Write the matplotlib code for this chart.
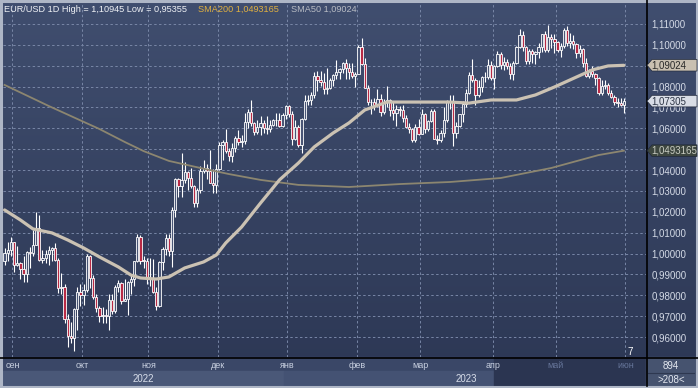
import matplotlib
matplotlib.use("Agg")
import matplotlib.pyplot as plt
import matplotlib.transforms as mtransforms
from matplotlib.patches import Rectangle, Polygon
import numpy as np

# daily EUR/USD candles, 29 Aug 2022 .. 30 May 2023 (trading days)
OPEN = [0.9965, 1.0002, 1.0017, 1.0054, 0.9945, 0.9953, 0.9928, 0.9902, 1.0009, 1.0001,
        1.0042, 1.0121, 0.9969, 0.9978, 0.9997, 1.0015, 1.0026, 0.9970, 0.9837, 0.9838,
        0.9688, 0.9606, 0.9594, 0.9736, 0.9815, 0.9802, 0.9824, 0.9986, 0.9884, 0.9794,
        0.9741, 0.9703, 0.9706, 0.9703, 0.9777, 0.9723, 0.9838, 0.9857, 0.9775, 0.9780,
        0.9862, 0.9877, 0.9962, 1.0077, 0.9966, 0.9965, 0.9882, 0.9878, 0.9818, 0.9750,
        0.9960, 1.0020, 1.0073, 1.0013, 1.0209, 1.0355, 1.0325, 1.0354, 1.0389, 1.0362,
        1.0325, 1.0244, 1.0305, 1.0397, 1.0409, 1.0398, 1.0340, 1.0330, 1.0405, 1.0522,
        1.0535, 1.0490, 1.0468, 1.0505, 1.0555, 1.0535, 1.0537, 1.0630, 1.0680, 1.0627,
        1.0583, 1.0606, 1.0625, 1.0604, 1.0595, 1.0615, 1.0639, 1.0641, 1.0611, 1.0662,
        1.0705, 1.0670, 1.0550, 1.0605, 1.0520, 1.0645, 1.0732, 1.0735, 1.0760, 1.0852,
        1.0830, 1.0820, 1.0790, 1.0795, 1.0830, 1.0855, 1.0870, 1.0885, 1.0915, 1.0890,
        1.0868, 1.0850, 1.0862, 1.0990, 1.0910, 1.0795, 1.0725, 1.0728, 1.0712, 1.0740,
        1.0680, 1.0725, 1.0737, 1.0690, 1.0672, 1.0695, 1.0686, 1.0650, 1.0605, 1.0595,
        1.0545, 1.0607, 1.0575, 1.0670, 1.0597, 1.0635, 1.0683, 1.0548, 1.0545, 1.0580,
        1.0640, 1.0730, 1.0733, 1.0577, 1.0610, 1.0670, 1.0718, 1.0770, 1.0855, 1.0830,
        1.0760, 1.0800, 1.0845, 1.0845, 1.0905, 1.0840, 1.0900, 1.0955, 1.0905, 1.0920,
        1.0900, 1.0860, 1.0915, 1.0990, 1.1045, 1.0990, 1.0925, 1.0970, 1.0955, 1.0965,
        1.0990, 1.1050, 1.0975, 1.1040, 1.1030, 1.1015, 1.0975, 1.0995, 1.1070, 1.1010,
        1.1020, 1.1005, 1.0960, 1.0980, 1.0915, 1.0850, 1.0875, 1.0860, 1.0840, 1.0770,
        1.0805, 1.0810, 1.0770, 1.0750, 1.0725, 1.0720, 1.0710]
HIGH = [1.0027, 1.0054, 1.0079, 1.0057, 1.0034, 0.9961, 0.9988, 1.0011, 1.0030, 1.0113,
        1.0198, 1.0187, 1.0019, 1.0017, 1.0036, 1.0030, 1.0051, 0.9977, 0.9907, 0.9852,
        0.9711, 0.9671, 0.9737, 0.9838, 0.9853, 0.9853, 0.9999, 0.9991, 0.9899, 0.9806,
        0.9749, 0.9743, 0.9736, 0.9807, 0.9808, 0.9847, 0.9875, 0.9865, 0.9876, 0.9869,
        0.9903, 0.9966, 1.0094, 1.0089, 0.9986, 0.9977, 0.9977, 0.9976, 0.9842, 0.9964,
        1.0032, 1.0094, 1.0096, 1.0222, 1.0364, 1.0364, 1.0481, 1.0437, 1.0394, 1.0412,
        1.0330, 1.0315, 1.0418, 1.0448, 1.0430, 1.0497, 1.0403, 1.0429, 1.0533, 1.0545,
        1.0595, 1.0505, 1.0528, 1.0561, 1.0590, 1.0570, 1.0673, 1.0694, 1.0737, 1.0630,
        1.0640, 1.0660, 1.0640, 1.0658, 1.0639, 1.0645, 1.0672, 1.0672, 1.0675, 1.0714,
        1.0713, 1.0685, 1.0640, 1.0615, 1.0650, 1.0760, 1.0760, 1.0776, 1.0868, 1.0874,
        1.0875, 1.0867, 1.0887, 1.0842, 1.0859, 1.0927, 1.0890, 1.0920, 1.0930, 1.0915,
        1.0914, 1.0870, 1.1000, 1.1033, 1.0935, 1.0810, 1.0739, 1.0745, 1.0790, 1.0765,
        1.0740, 1.0804, 1.0740, 1.0730, 1.0710, 1.0705, 1.0710, 1.0665, 1.0625, 1.0600,
        1.0620, 1.0645, 1.0691, 1.0672, 1.0640, 1.0694, 1.0695, 1.0568, 1.0590, 1.0700,
        1.0735, 1.0760, 1.0760, 1.0630, 1.0670, 1.0730, 1.0788, 1.0870, 1.0930, 1.0840,
        1.0830, 1.0850, 1.0870, 1.0930, 1.0925, 1.0905, 1.0973, 1.0965, 1.0940, 1.0930,
        1.0915, 1.0925, 1.0995, 1.1075, 1.1065, 1.0995, 1.0980, 1.0980, 1.0970, 1.1010,
        1.1050, 1.1065, 1.10945, 1.1050, 1.1050, 1.1020, 1.1010, 1.1080, 1.1092, 1.1055,
        1.1045, 1.1010, 1.1000, 1.0985, 1.0935, 1.0885, 1.0900, 1.0865, 1.0845, 1.0830,
        1.0830, 1.0815, 1.0785, 1.0760, 1.0745, 1.0745, 1.0745]
LOW = [0.9944, 0.9964, 0.9986, 0.9910, 0.9940, 0.9877, 0.9864, 0.9864, 0.9930, 0.9990,
       1.0040, 0.9966, 0.9955, 0.9954, 0.9944, 0.9966, 0.9965, 0.9809, 0.9807, 0.9669,
       0.9553, 0.9570, 0.95355, 0.9636, 0.9749, 0.9752, 0.9818, 0.9835, 0.9782, 0.9721,
       0.9670, 0.9665, 0.9669, 0.9632, 0.9711, 0.9714, 0.9815, 0.9756, 0.9772, 0.9705,
       0.9808, 0.9845, 0.9959, 0.9951, 0.9931, 0.9854, 0.9843, 0.9811, 0.9730, 0.9746,
       0.9922, 0.9991, 0.9990, 0.9935, 1.0175, 1.0271, 1.0270, 1.0336, 1.0305, 1.0316,
       1.0222, 1.0225, 1.0292, 1.0386, 1.0359, 1.0339, 1.0290, 1.0290, 1.0400, 1.0446,
       1.0480, 1.0443, 1.0437, 1.0488, 1.0520, 1.0511, 1.0523, 1.0600, 1.0611, 1.0566,
       1.0574, 1.0570, 1.0576, 1.0573, 1.0584, 1.0612, 1.0612, 1.0607, 1.0605, 1.0645,
       1.0655, 1.0520, 1.0543, 1.0510, 1.0483, 1.0640, 1.0714, 1.0712, 1.0745, 1.0777,
       1.0801, 1.0766, 1.0765, 1.0790, 1.0803, 1.0835, 1.0835, 1.0865, 1.0835, 1.0836,
       1.0839, 1.0800, 1.0860, 1.0905, 1.0793, 1.0710, 1.0670, 1.0690, 1.0700, 1.0660,
       1.0670, 1.0700, 1.0660, 1.0640, 1.0612, 1.0660, 1.0630, 1.0600, 1.0577, 1.0535,
       1.0533, 1.0570, 1.0573, 1.0580, 1.0588, 1.0630, 1.0548, 1.0524, 1.0535, 1.0560,
       1.0630, 1.0695, 1.0516, 1.0552, 1.0605, 1.0630, 1.0700, 1.0765, 1.0820, 1.0714,
       1.0750, 1.0775, 1.0820, 1.0835, 1.0830, 1.0790, 1.0895, 1.0885, 1.0880, 1.0885,
       1.0835, 1.0830, 1.0910, 1.0985, 1.0970, 1.0910, 1.0910, 1.0915, 1.0910, 1.0935,
       1.0965, 1.0965, 1.0965, 1.0985, 1.0960, 1.0965, 1.0942, 1.0985, 1.0995, 1.0985,
       1.0980, 1.0935, 1.0940, 1.0895, 1.0845, 1.0840, 1.0845, 1.0810, 1.0760, 1.0760,
       1.0790, 1.0760, 1.0745, 1.0710, 1.0700, 1.0705, 1.0675]
CLOSE = [1.0002, 1.0017, 1.0054, 0.9945, 0.9953, 0.9928, 0.9902, 1.0009, 1.0001, 1.0042,
         1.0121, 0.9969, 0.9978, 0.9997, 1.0015, 1.0026, 0.9970, 0.9837, 0.9838, 0.9688,
         0.9606, 0.9594, 0.9736, 0.9815, 0.9802, 0.9824, 0.9986, 0.9884, 0.9794, 0.9741,
         0.9703, 0.9706, 0.9703, 0.9777, 0.9723, 0.9838, 0.9857, 0.9775, 0.9780, 0.9862,
         0.9877, 0.9962, 1.0077, 0.9966, 0.9965, 0.9882, 0.9878, 0.9818, 0.9750, 0.9960,
         1.0020, 1.0073, 1.0013, 1.0209, 1.0355, 1.0325, 1.0354, 1.0389, 1.0362, 1.0325,
         1.0244, 1.0305, 1.0397, 1.0409, 1.0398, 1.0340, 1.0330, 1.0405, 1.0522, 1.0535,
         1.0490, 1.0468, 1.0505, 1.0555, 1.0535, 1.0537, 1.0630, 1.0680, 1.0627, 1.0583,
         1.0606, 1.0625, 1.0604, 1.0595, 1.0615, 1.0639, 1.0641, 1.0611, 1.0662, 1.0705,
         1.0670, 1.0550, 1.0605, 1.0520, 1.0645, 1.0732, 1.0735, 1.0760, 1.0852, 1.0830,
         1.0820, 1.0790, 1.0795, 1.0830, 1.0855, 1.0870, 1.0885, 1.0915, 1.0890, 1.0868,
         1.0850, 1.0862, 1.0990, 1.0910, 1.0795, 1.0725, 1.0728, 1.0712, 1.0740, 1.0680,
         1.0725, 1.0737, 1.0690, 1.0672, 1.0695, 1.0686, 1.0650, 1.0605, 1.0595, 1.0545,
         1.0607, 1.0575, 1.0670, 1.0597, 1.0635, 1.0683, 1.0548, 1.0545, 1.0580, 1.0640,
         1.0730, 1.0733, 1.0577, 1.0610, 1.0670, 1.0718, 1.0770, 1.0855, 1.0830, 1.0760,
         1.0800, 1.0845, 1.0845, 1.0905, 1.0840, 1.0900, 1.0955, 1.0905, 1.0920, 1.0900,
         1.0860, 1.0915, 1.0990, 1.1045, 1.0990, 1.0925, 1.0970, 1.0955, 1.0965, 1.0990,
         1.1050, 1.0975, 1.1040, 1.1030, 1.1015, 1.0975, 1.0995, 1.1070, 1.1010, 1.1020,
         1.1005, 1.0960, 1.0980, 1.0915, 1.0850, 1.0875, 1.0860, 1.0840, 1.0770, 1.0805,
         1.0810, 1.0770, 1.0750, 1.0725, 1.0720, 1.0710, 1.07305]

# moving averages (candle index, value)
SMA200_IDX = [0, 14, 30, 38, 44, 52, 62, 71, 81, 93, 109, 125, 141, 157, 173, 188, 196]
SMA200_VAL = [1.0808, 1.0707, 1.0597, 1.0535, 1.0491, 1.0444, 1.0410, 1.0381, 1.0353,
              1.0329, 1.0319, 1.0333, 1.0343, 1.0362, 1.0410, 1.0472, 1.0493]
SMA50_IDX = [0, 5, 9, 15, 20, 25, 30, 36, 40, 43, 48, 52, 57, 63, 67, 70, 75, 81, 87, 93,
             98, 104, 109, 114, 121, 141, 147, 154, 162, 168, 174, 181, 186, 191, 196]
SMA50_VAL = [1.0209, 1.0161, 1.0118, 1.0099, 1.0065, 1.0027, 0.9984, 0.9936, 0.9897,
             0.9883, 0.9878, 0.9888, 0.9931, 0.9960, 0.9993, 1.0051, 1.0127, 1.0242,
             1.0353, 1.0434, 1.0511, 1.0578, 1.0626, 1.0688, 1.0726, 1.0726, 1.0721,
             1.0736, 1.0736, 1.0760, 1.0798, 1.0846, 1.0880, 1.0899, 1.0902]

MONTHS = ['сен', 'окт', 'ноя', 'дек', 'янв', 'фев', 'мар', 'апр', 'май', 'июн']
MONTH_START = [3, 25, 46, 68, 90, 112, 132, 155, 175, 197]
PRICE_TICKS = [0.96, 0.97, 0.98, 0.99, 1.00, 1.01, 1.02, 1.03, 1.04, 1.05,
               1.06, 1.07, 1.08, 1.09, 1.10, 1.11]
HIDDEN_TICKS = [1.05, 1.09]  # covered by the SMA tags
LAST_PRICE = 1.07305
SMA50_LAST = 1.09024
SMA200_LAST = 1.0493165

W, H = 698, 388
BG_TOP = np.array([0x40, 0x4e, 0x6f]) / 255
BG_BOT = np.array([0x2c, 0x37, 0x54]) / 255
DOWN = '#b82a45'
GRID = '#7886a6'

fig = plt.figure(figsize=(W / 100, H / 100), dpi=100)
plt.rcParams['font.family'] = ['Liberation Sans', 'DejaVu Sans']

# background layer in pixel coordinates
bg = fig.add_axes([0, 0, 1, 1], zorder=0)
bg.set_xlim(0, W)
bg.set_ylim(H, 0)
bg.axis('off')
grad = np.linspace(0, 1, 256)[:, None, None]
img = BG_TOP * (1 - grad) + BG_BOT * grad
bg.imshow(img, extent=[0, W, H, 0], aspect='auto')
# time axis strip
bg.add_patch(Rectangle((3, 357), 643, 14, color='#3a4767'))
bg.add_patch(Rectangle((3, 371), 281, 15, color='#4a5878'))
bg.add_patch(Rectangle((284, 371), 210, 15, color='#445273'))
bg.add_patch(Rectangle((494, 357), 152, 29, color='#2b3551'))
bg.add_patch(Rectangle((646, 357), 52, 29, color='#46536f'))
bg.plot([648, 694], [372.5, 372.5], color='#2e3850', lw=0.8)
bg.plot([0, W], [357.5, 357.5], color='black', lw=1.2)
bg.plot([646.5, 646.5], [0, 386], color='black', lw=1.2)
bg.add_patch(Rectangle((0.8, 0.8), W - 1.6, H - 1.6, fill=False, ec='#aeb6c6', lw=2.2))

ax = fig.add_axes([3 / W, (H - 357) / H, 643 / W, 354 / H], zorder=1)
ax.patch.set_alpha(0)
x = np.arange(len(CLOSE))
ax.set_xlim(-0.5, 203)
ax.set_ylim(0.95044, 1.12006)

for s in ax.spines.values():
    s.set_visible(False)

ax.set_yticks(PRICE_TICKS)
ax.set_yticklabels(['' if p in HIDDEN_TICKS else f'{p:.5f}'.replace('.', ',')
                    for p in PRICE_TICKS])
ax.yaxis.tick_right()
ax.tick_params(axis='y', length=0, pad=4, labelsize=7, labelcolor='#d4dae6')
ax.tick_params(axis='x', length=0, labelbottom=False)
ax.set_xticks([m - 0.5 for m in MONTH_START])
ax.grid(True, color=GRID, lw=0.7, ls=(0, (2.5, 2.5)))
ax.set_axisbelow(True)

o = np.array(OPEN)
c = np.array(CLOSE)
up = c >= o
ax.vlines(x, LOW, HIGH, color='white', lw=0.8, zorder=2)
bottoms = np.minimum(o, c)
heights = np.maximum(np.abs(c - o), 0.0003)
faces = ['#4a5676' if u else DOWN for u in up]
ax.bar(x, heights, bottom=bottoms, width=0.72, color=faces, edgecolor='white',
       linewidth=0.6, zorder=3)

ax.plot(SMA200_IDX, SMA200_VAL, color='#8c8670', lw=1.3, zorder=4, solid_joinstyle='round')
ax.plot(SMA50_IDX, SMA50_VAL, color='#cbc2b3', lw=2.3, zorder=4, solid_joinstyle='round',
        solid_capstyle='round')

# price tags on the right axis
tr = mtransforms.blended_transform_factory(ax.transAxes, ax.transData)
hh = 5.8 / 2087
fx = lambda px: (px - 3) / 643
for val, face, tcol, txt in [(SMA50_LAST, '#c9c0b1', '#2a2a2a', '1,09024'),
                             (LAST_PRICE, '#d9dde6', '#2c3444', '1,07305'),
                             (SMA200_LAST, '#3d463f', '#c8ccc2', '1,0493165')]:
    pts = [(fx(647), val), (fx(652), val + hh), (fx(697), val + hh),
           (fx(697), val - hh), (fx(652), val - hh)]
    ax.add_patch(Polygon(pts, closed=True, transform=tr, clip_on=False, fc=face,
                         ec='#20283a', lw=0.5, zorder=6))
    ax.text(fx(651), val, txt, transform=tr, fontsize=7, color=tcol, va='center',
            ha='left', zorder=7, clip_on=False)

# header
fig.text(4 / W, 1 - 9 / H, 'EUR/USD 1D High = 1,10945 Low = 0,95355', color='#f0f2f6',
         fontsize=6.6, va='center', ha='left')
fig.text(198 / W, 1 - 9 / H, 'SMA200 1,0493165', color='#e0b040', fontsize=6.6,
         va='center', ha='left')
fig.text(291 / W, 1 - 9 / H, 'SMA50 1,09024', color='#b8bcc4', fontsize=6.6,
         va='center', ha='left')

# time axis labels
for i, (m, s) in enumerate(zip(MONTHS, MONTH_START)):
    xp = ax.transData.transform((s - 0.5, 1.0))[0] / W
    col = '#c8d0e0' if i < 8 else '#66759a'
    fig.text(xp, 1 - 365 / H, m, color=col, fontsize=6.5, ha='center', va='center')
fig.text(143 / W, 1 - 379 / H, '2022', color='#d8deea', fontsize=7, ha='center', va='center')
fig.text(466 / W, 1 - 379 / H, '2023', color='#d8deea', fontsize=7, ha='center', va='center')
fig.text(630 / W, 1 - 352 / H, '7', color='white', fontsize=7, ha='center', va='center')
fig.text(671 / W, 1 - 366 / H, '894', color='#e4e8f0', fontsize=7, ha='center', va='center')
fig.text(671 / W, 1 - 380 / H, '>208<', color='#e4e8f0', fontsize=7, ha='center', va='center')

fig.savefig('out.png', dpi=100)
